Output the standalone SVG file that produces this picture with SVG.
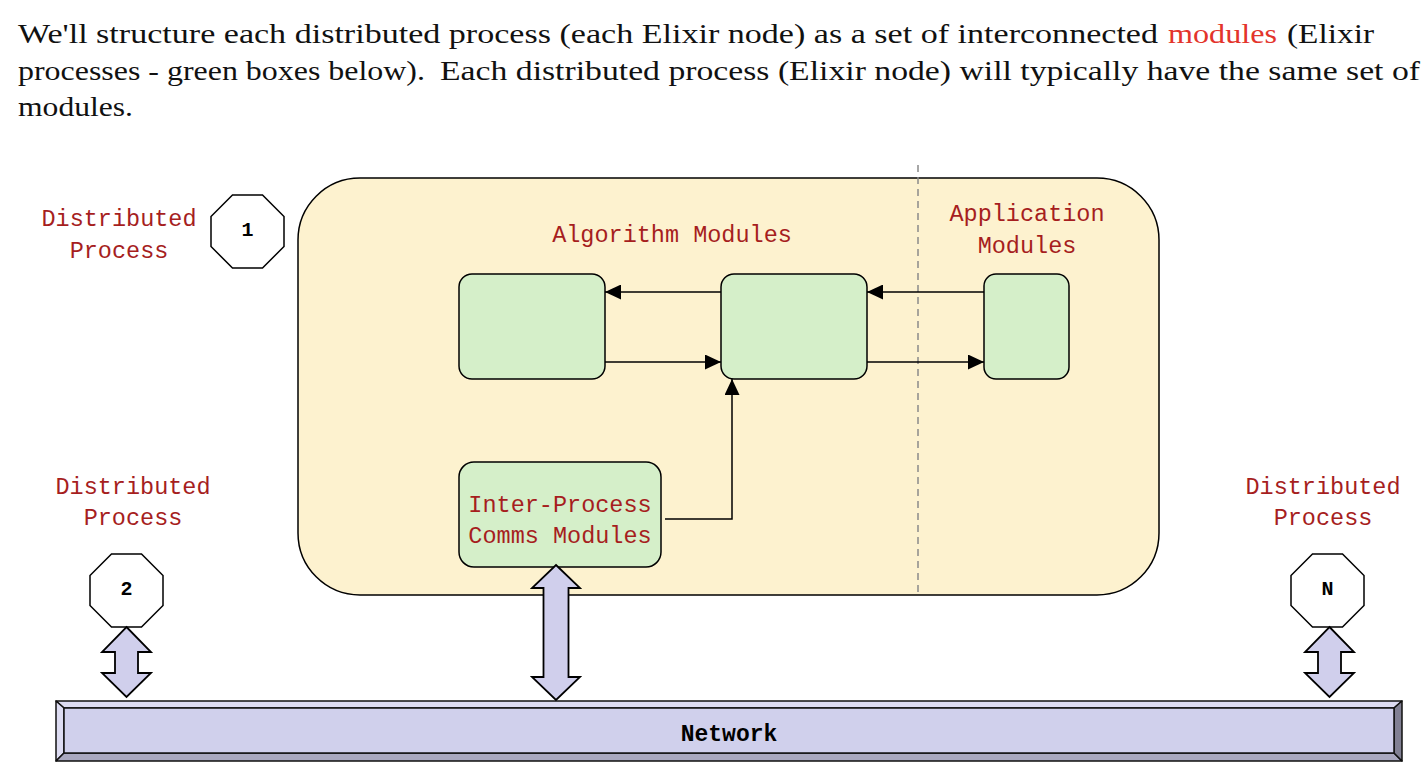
<svg xmlns="http://www.w3.org/2000/svg" width="1424" height="780" viewBox="0 0 1424 780">
<defs>
<style>
.prose{font-family:"Liberation Serif","Times New Roman",serif;font-size:27px;fill:#111}
.lbl{font-family:"Liberation Mono","Courier New",monospace;font-size:23.5px;fill:#a61e1e;text-anchor:middle}
.num{font-family:"Liberation Mono","Courier New",monospace;font-size:20px;font-weight:bold;fill:#000;text-anchor:middle}
.net{font-family:"Liberation Mono","Courier New",monospace;font-size:23px;font-weight:bold;fill:#000;text-anchor:middle}
.oct{fill:#fff;stroke:#000;stroke-width:1.5}
.mod{fill:#d5efc9;stroke:#000;stroke-width:1.5}
.blk{fill:#d0cfec;stroke:#000;stroke-width:1.8;stroke-linejoin:miter}
.conn{fill:none;stroke:#000;stroke-width:1.5}
</style>
<marker id="ah" viewBox="0 0 16 15" refX="16" refY="7.5" markerWidth="16" markerHeight="15" markerUnits="userSpaceOnUse" orient="auto">
<path d="M0,0 L16,7.5 L0,15 Z" fill="#000"/>
</marker>
</defs>

<g id="intro">
<text class="prose" y="43"><tspan x="18" textLength="1140" lengthAdjust="spacingAndGlyphs">We'll structure each distributed process (each Elixir node) as a set of interconnected</tspan><tspan x="1168" fill="#e3342b" textLength="109" lengthAdjust="spacingAndGlyphs">modules</tspan><tspan x="1287" textLength="87" lengthAdjust="spacingAndGlyphs">(Elixir</tspan></text>
<text class="prose" y="80"><tspan x="18" textLength="407" lengthAdjust="spacingAndGlyphs">processes - green boxes below).</tspan><tspan x="440" textLength="980" lengthAdjust="spacingAndGlyphs">Each distributed process (Elixir node) will typically have the same set of</tspan></text>
<text class="prose" y="116"><tspan x="18" textLength="115" lengthAdjust="spacingAndGlyphs">modules.</tspan></text>
</g>

<g id="process1">
<rect x="298" y="178" width="861" height="417" rx="62" ry="62" fill="#fdf2cf" stroke="#000" stroke-width="1.5"/>
<line x1="918" y1="165" x2="918" y2="595" stroke="#8a8a8a" stroke-width="1.5" stroke-dasharray="7 5"/>
<text class="lbl" x="672" y="242">Algorithm Modules</text>
<text class="lbl" x="1027" y="221">Application</text>
<text class="lbl" x="1027" y="253">Modules</text>
</g>

<g id="label1">
<text class="lbl" x="119" y="226">Distributed</text>
<text class="lbl" x="119" y="258">Process</text>
</g>
<g id="oct1">
<polygon class="oct" points="232.5,195 262.5,195 284,216.5 284,246.5 262.5,268 232.5,268 211,246.5 211,216.5"/>
<text class="num" x="247.5" y="236">1</text>
</g>

<g id="algA"><rect class="mod" x="459" y="274" width="146" height="105" rx="13"/></g>
<g id="algB"><rect class="mod" x="721" y="274" width="146" height="105" rx="13"/></g>
<g id="appC"><rect class="mod" x="984" y="274" width="85" height="105" rx="12"/></g>
<g id="comms">
<rect class="mod" x="459" y="462" width="202" height="105" rx="15"/>
<text class="lbl" x="560" y="512">Inter-Process</text>
<text class="lbl" x="560" y="543">Comms Modules</text>
</g>

<g id="label2">
<text class="lbl" x="133" y="494">Distributed</text>
<text class="lbl" x="133" y="525">Process</text>
</g>
<g id="oct2">
<polygon class="oct" points="111.5,554 141.5,554 163,575.5 163,605.5 141.5,627 111.5,627 90,605.5 90,575.5"/>
<text class="num" x="126.5" y="595">2</text>
</g>

<g id="labelN">
<text class="lbl" x="1323" y="494">Distributed</text>
<text class="lbl" x="1323" y="525">Process</text>
</g>
<g id="octN">
<polygon class="oct" points="1312.5,554 1342.5,554 1364,575.5 1364,605.5 1342.5,627 1312.5,627 1291,605.5 1291,575.5"/>
<text class="num" x="1327.5" y="595">N</text>
</g>

<g id="network">
<rect x="56" y="701" width="1346" height="60" fill="#d0d0ec"/>
<polygon points="56,701 1402,701 1394,708 64,708" fill="#dddcf2" stroke="#111" stroke-width="1.5" stroke-linejoin="round"/>
<polygon points="56,701 64,708 64,753 56,761" fill="#dddcf2" stroke="#111" stroke-width="1.5" stroke-linejoin="round"/>
<polygon points="56,761 64,753 1394,753 1402,761" fill="#a9a8bf" stroke="#111" stroke-width="1.5" stroke-linejoin="round"/>
<polygon points="1402,701 1402,761 1394,753 1394,708" fill="#818093" stroke="#111" stroke-width="1.5" stroke-linejoin="round"/>
<rect x="64" y="708" width="1330" height="45" fill="#d0d0ec" stroke="#111" stroke-width="1.5"/>
<text class="net" x="729" y="741">Network</text>
</g>

<g id="connectors">
<line class="conn" x1="721" y1="292" x2="605" y2="292" marker-end="url(#ah)"/>
<line class="conn" x1="605" y1="362" x2="721" y2="362" marker-end="url(#ah)"/>
<line class="conn" x1="984" y1="292" x2="867" y2="292" marker-end="url(#ah)"/>
<line class="conn" x1="867" y1="362" x2="984" y2="362" marker-end="url(#ah)"/>
<polyline class="conn" points="665,519 732,519 732,379" marker-end="url(#ah)"/>
<path class="blk" d="M556,565 L580,588 L568.5,588 L568.5,677 L580,677 L556,700 L532,677 L543.5,677 L543.5,588 L532,588 Z"/>
<path class="blk" d="M126.5,627 L151,652 L138,652 L138,673 L151,673 L126.5,697 L102,673 L115,673 L115,652 L102,652 Z"/>
<path class="blk" d="M1329.5,627 L1354,652 L1341,652 L1341,673 L1354,673 L1329.5,697 L1305,673 L1318,673 L1318,652 L1305,652 Z"/>
</g>
</svg>
